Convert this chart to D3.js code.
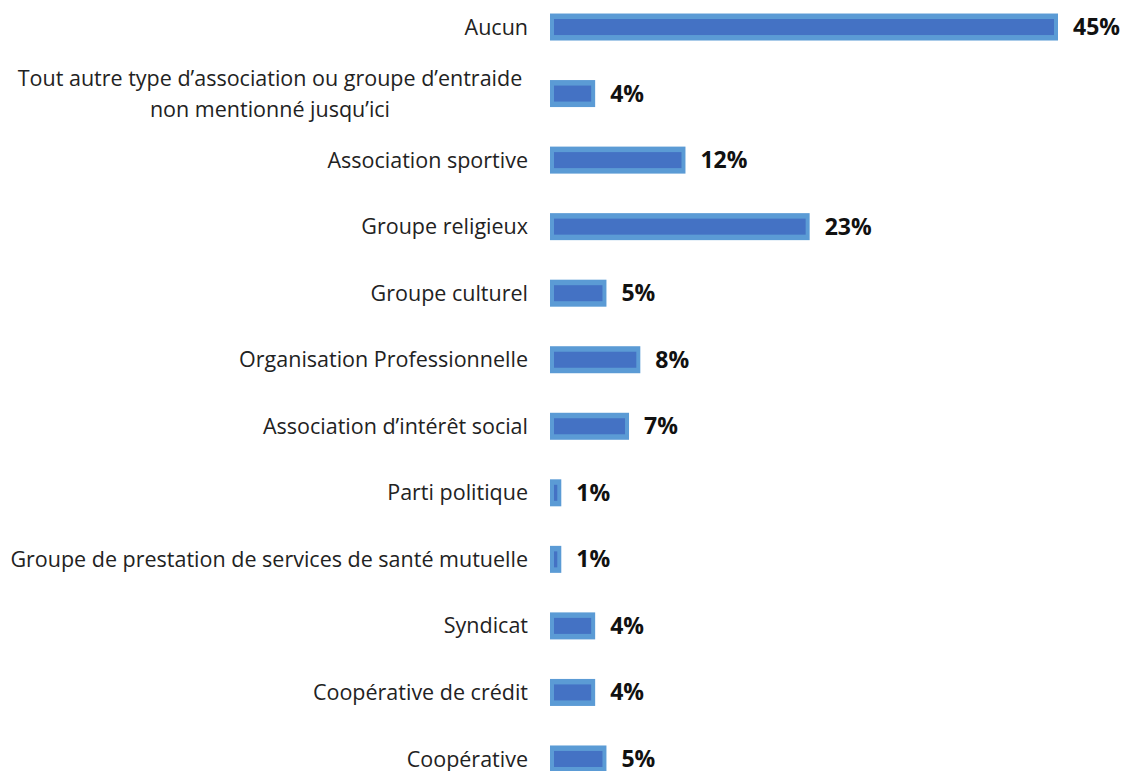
<!DOCTYPE html>
<html>
<head>
<meta charset="utf-8">
<script src="https://cdn.jsdelivr.net/npm/d3@7"></script>
<style>
  html, body { margin: 0; padding: 0; background: #fff; }
  svg { display: block; }
</style>
</head>
<body>
<svg id="chart" width="1126" height="771"></svg>
<script>
// Categories, top to bottom
const categories = [
  ["Aucun"],
  ["Tout autre type d\u2019association ou groupe d\u2019entraide", "non mentionn\u00e9 jusqu\u2019ici"],
  ["Association sportive"],
  ["Groupe religieux"],
  ["Groupe culturel"],
  ["Organisation Professionnelle"],
  ["Association d\u2019int\u00e9r\u00eat social"],
  ["Parti politique"],
  ["Groupe de prestation de services de sant\u00e9 mutuelle"],
  ["Syndicat"],
  ["Coop\u00e9rative de cr\u00e9dit"],
  ["Coop\u00e9rative"]
];
// Share of respondents (%)
const values = [45, 4, 12, 23, 5, 8, 7, 1, 1, 4, 4, 5];
const valueLabels = ["45%", "4%", "12%", "23%", "5%", "8%", "7%", "1%", "1%", "4%", "4%", "5%"];

const svg = d3.select("#chart");
const font = "'Open Sans', Lato, sans-serif";

const x = d3.scaleLinear().domain([0, 45]).range([550, 1058]);
const y = d3.scaleBand()
  .domain(d3.range(categories.length))
  .range([-6.25, 792.25])
  .paddingInner(0.6)
  .paddingOuter(0.3);

const rows = svg.selectAll("g.row")
  .data(values.map((v, i) => ({ v, i, cat: categories[i], lab: valueLabels[i] })))
  .join("g")
  .attr("class", "row");

// outer light-blue bar
rows.append("rect")
  .attr("x", x(0))
  .attr("y", d => y(d.i) + y.bandwidth() / 2 - 13.5)
  .attr("width", d => x(d.v) - x(0))
  .attr("height", 27)
  .attr("fill", "#5B9BD5");

// inner darker fill
rows.append("rect")
  .attr("x", x(0) + 4)
  .attr("y", d => y(d.i) + y.bandwidth() / 2 - 8)
  .attr("width", d => Math.max(2, x(d.v) - x(0) - 8))
  .attr("height", 16)
  .attr("fill", "#4472C4");

// value labels
rows.append("text")
  .attr("x", d => x(d.v) + 15)
  .attr("y", d => y(d.i) + y.bandwidth() / 2)
  .attr("dy", "0.35em")
  .attr("font-family", font)
  .attr("font-weight", "bold")
  .attr("font-size", 23)
  .attr("fill", "#111")
  .text(d => d.lab);

// category labels
rows.each(function(d) {
  const g = d3.select(this);
  const cy = y(d.i) + y.bandwidth() / 2;
  const n = d.cat.length;
  const lh = 31;
  const t = g.append("text")
    .attr("font-family", font)
    .attr("font-size", 21.5)
    .attr("fill", "#222")
    .attr("text-anchor", n > 1 ? "middle" : "end");
  d.cat.forEach((line, k) => {
    t.append("tspan")
      .attr("x", n > 1 ? 270 : 528)
      .attr("y", cy + (k - (n - 1) / 2) * lh)
      .attr("dy", "0.35em")
      .text(line);
  });
});
</script>
</body>
</html>
